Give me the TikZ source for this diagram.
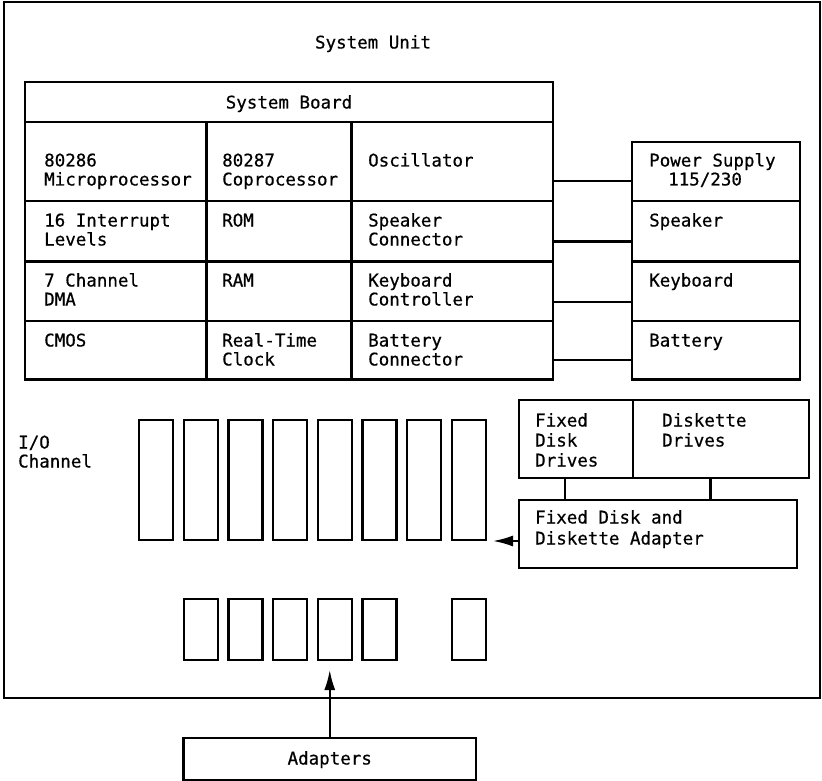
\documentclass[tikz,border=0pt]{standalone}
\usepackage{fontspec}
\newfontfamily\dmono[FakeBold=0.6]{DejaVu Sans Mono}
\usetikzlibrary{arrows.meta}
\newcommand\rnode[5]{\node[rbox, minimum width={(#4)-(#2)}, minimum height={(#5)-(#3)}] (#1) at ({(#2+#4)/2},{(#3+#5)/2}) {};}
\begin{document}
\begin{tikzpicture}[x=1pt,y=-1pt,
  rbox/.style={draw, line width=2.2pt, inner sep=0pt, outer sep=0pt},
  txt/.style={anchor=base west, inner sep=0pt, align=left, font=\dmono\fontsize{17.5}{19}\selectfont},
  ctxt/.style={txt, anchor=base},
  link/.style={line width=2.2pt},
  arr/.style={line width=2pt, -{Latex[length=20pt,width=11pt]}}]
\useasboundingbox (0,0) rectangle (822,781);
% system unit
\rnode{unit}{4}{2}{820}{698}
\node[ctxt] (tunit) at (373,48.5) {System Unit};
% system board
\rnode{board}{25}{82}{553}{122}
\node[ctxt] (tboard) at (289,108.5) {System Board};
\rnode{cpu}{25}{122}{206.5}{201}
\rnode{copro}{206.5}{122}{351.5}{201}
\rnode{osc}{351.5}{122}{553}{201}
\rnode{irq}{25}{201}{206.5}{261.5}
\rnode{rom}{206.5}{201}{351.5}{261.5}
\rnode{spkc}{351.5}{201}{553}{261.5}
\rnode{dma}{25}{261.5}{206.5}{321}
\rnode{ram}{206.5}{261.5}{351.5}{321}
\rnode{kbc}{351.5}{261.5}{553}{321}
\rnode{cmos}{25}{321}{206.5}{379.5}
\rnode{rtc}{206.5}{321}{351.5}{379.5}
\rnode{batc}{351.5}{321}{553}{379.5}
% (base anchor of a multi-line node is the baseline of its last line)
\node[txt] (tcpu) at (44,185.5) {80286\\Microprocessor};
\node[txt] (tcopro) at (222,185.5) {80287\\Coprocessor};
\node[txt] (tosc) at (368,166.5) {Oscillator};
\node[txt] (tirq) at (44,245.5) {16 Interrupt\\Levels};
\node[txt] (trom) at (222,226.5) {ROM};
\node[txt] (tspkc) at (368,245.5) {Speaker\\Connector};
\node[txt] (tdma) at (44,305.5) {7 Channel\\DMA};
\node[txt] (tram) at (222,286.5) {RAM};
\node[txt] (tkbc) at (368,305.5) {Keyboard\\Controller};
\node[txt] (tcmos) at (44,346.5) {CMOS};
\node[txt] (trtc) at (222,365.5) {Real-Time\\Clock};
\node[txt] (tbatc) at (368,365.5) {Battery\\Connector};
% right column
\rnode{ps}{632}{142}{800}{201}
\rnode{spk}{632}{201}{800}{261.5}
\rnode{kb}{632}{261.5}{800}{321}
\rnode{bat}{632}{321}{800}{379.5}
\node[txt] (tps) at (649,185.5) {Power Supply\\\hspace*{19pt}115/230};
\node[txt] (tspk) at (649,226.5) {Speaker};
\node[txt] (tkb) at (649,286.5) {Keyboard};
\node[txt] (tbat) at (649,346.5) {Battery};
\coordinate (l1) at (0,181);
\coordinate (l2) at (0,241.5);
\coordinate (l3) at (0,302);
\coordinate (l4) at (0,360);
\draw[link] (osc.east |- l1) -- (ps.west |- l1);
\draw[link] (spkc.east |- l2) -- (spk.west |- l2);
\draw[link] (kbc.east |- l3) -- (kb.west |- l3);
\draw[link] (batc.east |- l4) -- (bat.west |- l4);
% I/O channel
\node[txt] (tio) at (18,467.5) {I/O\\Channel};
\foreach \i in {0,...,7} {\rnode{slot\i}{139+44.7*\i}{420}{173+44.7*\i}{540}}
\foreach \i in {1,2,3,4,5,7} {\rnode{short\i}{139+44.7*\i}{599}{173+44.7*\i}{660}}
% drives
\rnode{fdd}{519}{400}{633}{478}
\rnode{dd}{633}{400}{809}{478}
\rnode{adp}{519}{500}{797}{568}
\node[txt, font=\dmono\fontsize{17.5}{20}\selectfont] (tfdd) at (535,466.5) {Fixed\\Disk\\Drives};
\node[txt, font=\dmono\fontsize{17.5}{20}\selectfont] (tdd) at (662,446.5) {Diskette\\Drives};
\node[txt, font=\dmono\fontsize{17.5}{21}\selectfont] (tadp) at (535,544.5) {Fixed Disk and\\Diskette Adapter};
\coordinate (k1) at (565,0);
\coordinate (k2) at (710.5,0);
\draw[link] (fdd.south -| k1) -- (adp.north -| k1);
\draw[link] (dd.south -| k2) -- (adp.north -| k2);
\coordinate (ain) at (493,541);
\draw[arr] (adp.west |- ain) -- (ain);
% adapters
\rnode{adapters}{183.5}{738}{476}{780}
\node[ctxt] (tadapters) at (adapters.center |- 0,764.5) {Adapters};
\coordinate (aup) at (adapters.north |- 0,670);
\draw[arr] (adapters.north) -- (aup);
\end{tikzpicture}
\end{document}
